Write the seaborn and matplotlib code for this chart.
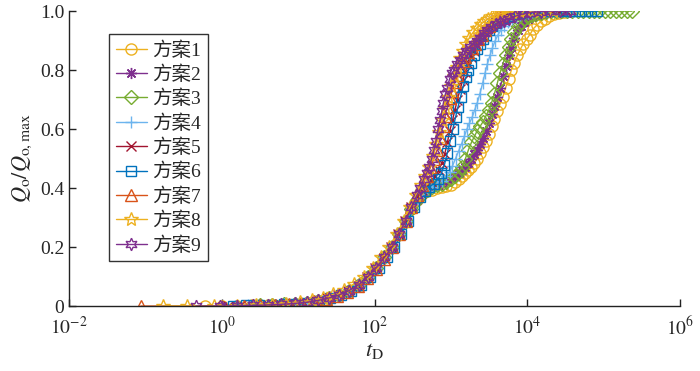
import matplotlib
matplotlib.use("Agg")
import matplotlib.pyplot as plt
import seaborn as sns
import pandas as pd

sns.set_style("ticks")
plt.rcParams['font.family'] = ['Liberation Serif', 'Noto Sans CJK SC']
plt.rcParams['mathtext.fontset'] = 'stix'
plt.rcParams['xtick.direction'] = 'in'
plt.rcParams['ytick.direction'] = 'in'

# t_D and Q_o/Q_o,max, one pair per scheme
t1 = [0.6, 1.0, 1.6, 2.5, 4, 6, 9, 13, 18, 25,
      34, 46, 62, 82, 105, 135, 170, 210, 255, 305,
      360, 420, 490, 570, 660, 760, 870, 990, 1120, 1260,
      1400, 1550, 1700, 1860, 2030, 2220, 2420, 2640, 2880, 3140,
      3420, 3720, 4050, 4400, 4800, 5200, 5700, 6200, 6800, 7400,
      8100, 8900, 9800, 10800, 12000, 13400, 15000, 17000, 19500, 22500,
      26000, 30000, 36000]
q1 = [0, 0, 0.001, 0.002, 0.003, 0.005, 0.008, 0.012, 0.018, 0.026,
      0.036, 0.05, 0.07, 0.10, 0.13, 0.165, 0.20, 0.245, 0.29, 0.33,
      0.36, 0.38, 0.39, 0.395, 0.40, 0.403, 0.407, 0.412, 0.42, 0.43,
      0.44, 0.45, 0.46, 0.47, 0.485, 0.50, 0.52, 0.54, 0.56, 0.585,
      0.61, 0.635, 0.66, 0.685, 0.71, 0.74, 0.77, 0.80, 0.825, 0.85,
      0.87, 0.89, 0.905, 0.92, 0.94, 0.953, 0.965, 0.975, 0.983, 0.99,
      0.995, 0.998, 1.0]

t2 = [1.0, 1.6, 2.5, 4, 6, 9, 13, 18, 25,
      34, 46, 62, 82, 105, 135, 170, 210, 255, 305,
      360, 420, 490, 570, 660, 760, 870, 990, 1120, 1260,
      1400, 1550, 1700, 1860, 2030, 2220, 2420, 2640, 2880, 3140,
      3420, 3720, 4050, 4400, 4800, 5200, 5700, 6200, 6800, 7500,
      8300, 9200, 10200, 11500, 13000, 15000, 17500, 20500, 24000, 28000,
      32000]
q2 = [0, 0.001, 0.002, 0.003, 0.005, 0.008, 0.012, 0.018, 0.026,
      0.036, 0.05, 0.07, 0.10, 0.13, 0.165, 0.20, 0.245, 0.29, 0.33,
      0.36, 0.38, 0.395, 0.405, 0.41, 0.415, 0.42, 0.43, 0.44, 0.45,
      0.46, 0.47, 0.485, 0.50, 0.515, 0.53, 0.55, 0.57, 0.595, 0.62,
      0.65, 0.68, 0.71, 0.74, 0.78, 0.815, 0.85, 0.88, 0.91, 0.935,
      0.95, 0.962, 0.972, 0.98, 0.986, 0.991, 0.995, 0.998, 1.0, 1.0,
      1.0]

t3 = [3.2, 4.5, 6.5, 9, 13, 18, 25, 34, 46, 62,
      82, 105, 135, 170, 210, 255, 305, 360, 420, 490,
      570, 660, 760, 870, 990, 1120, 1260, 1400, 1550, 1700,
      1860, 2030, 2220, 2420, 2640, 2880, 3140, 3420, 3720, 4050,
      4400, 4800, 5200, 5700, 6200, 6800, 7500, 8300, 9200, 10200,
      11500, 13000, 15000, 17500, 20500, 24000, 28000, 33000, 39000, 46000,
      54000, 64000, 75000, 88000, 104000, 122000, 144000, 170000, 200000, 236000]
q3 = [0.003, 0.004, 0.006, 0.008, 0.012, 0.018, 0.026, 0.036, 0.05, 0.07,
      0.10, 0.13, 0.165, 0.20, 0.245, 0.29, 0.33, 0.36, 0.38, 0.395,
      0.405, 0.41, 0.415, 0.42, 0.43, 0.44, 0.455, 0.47, 0.50, 0.53,
      0.555, 0.575, 0.595, 0.61, 0.625, 0.645, 0.665, 0.69, 0.72, 0.755,
      0.79, 0.82, 0.85, 0.88, 0.905, 0.93, 0.95, 0.963, 0.973, 0.98,
      0.986, 0.991, 0.995, 0.998, 1.0, 1.0, 1.0, 1.0, 1.0, 1.0,
      1.0, 1.0, 1.0, 1.0, 1.0, 1.0, 1.0, 1.0, 1.0, 1.0]

t4 = [1.5, 2.2, 3.2, 4.6, 6.5, 9, 13, 18, 25, 34,
      46, 62, 82, 105, 135, 170, 210, 255, 305, 360,
      420, 490, 570, 660, 760, 870, 960, 1050, 1150, 1260,
      1380, 1500, 1620, 1750, 1900, 2050, 2220, 2400, 2600, 2800,
      3000, 3250, 3500, 3800, 4150, 4550, 5000, 5600, 6300, 7100,
      8000, 9000, 10200, 11600, 13200, 15000, 17500, 20500, 24000, 28000,
      33000, 40000]
q4 = [0.001, 0.002, 0.003, 0.004, 0.006, 0.008, 0.012, 0.018, 0.026, 0.036,
      0.05, 0.07, 0.10, 0.13, 0.165, 0.20, 0.245, 0.29, 0.33, 0.36,
      0.38, 0.395, 0.405, 0.415, 0.425, 0.44, 0.455, 0.475, 0.50, 0.525,
      0.55, 0.575, 0.60, 0.62, 0.64, 0.665, 0.69, 0.72, 0.755, 0.79,
      0.82, 0.85, 0.875, 0.90, 0.92, 0.937, 0.95, 0.962, 0.972, 0.98,
      0.986, 0.991, 0.995, 0.997, 0.999, 1.0, 1.0, 1.0, 1.0, 1.0,
      1.0, 1.0]

t5 = [1.2, 1.8, 2.7, 4, 5.8, 8.3, 12, 17, 24, 33,
      45, 60, 80, 103, 132, 165, 205, 250, 300, 355,
      415, 480, 550, 620, 690, 760, 830, 900, 970, 1050,
      1130, 1220, 1320, 1430, 1550, 1680, 1820, 1980, 2150, 2350,
      2580, 2850, 3150, 3500, 3900, 4400, 5000, 5800, 6800, 8000,
      9500, 11500, 14000, 17000, 21000, 26000, 32000]
q5 = [0.001, 0.002, 0.003, 0.004, 0.006, 0.008, 0.012, 0.018, 0.026, 0.036,
      0.05, 0.068, 0.098, 0.128, 0.163, 0.2, 0.245, 0.29, 0.335, 0.37,
      0.395, 0.41, 0.425, 0.44, 0.46, 0.485, 0.515, 0.555, 0.595, 0.63,
      0.665, 0.70, 0.735, 0.765, 0.795, 0.82, 0.845, 0.865, 0.885, 0.905,
      0.92, 0.935, 0.948, 0.96, 0.97, 0.978, 0.985, 0.99, 0.994, 0.997,
      1.0, 1.0, 1.0, 1.0, 1.0, 1.0, 1.0]

t6 = [1.4, 2.1, 3.1, 4.5, 6.5, 9.2, 13, 18.5, 26, 36,
      49, 66, 88, 113, 145, 182, 225, 275, 330, 390,
      455, 525, 600, 675, 750, 825, 900, 980, 1060, 1150,
      1240, 1340, 1450, 1570, 1700, 1840, 2000, 2180, 2380, 2600,
      2850, 3150, 3500, 3900, 4400, 5000, 5800, 6800, 8000, 9500,
      11500, 14000, 17000, 21000, 26000, 32000, 39000, 47000, 57000, 69000,
      83000]
q6 = [0.001, 0.002, 0.003, 0.004, 0.006, 0.008, 0.012, 0.018, 0.026, 0.036,
      0.05, 0.07, 0.10, 0.13, 0.165, 0.2, 0.245, 0.29, 0.335, 0.37,
      0.39, 0.405, 0.415, 0.43, 0.45, 0.48, 0.52, 0.56, 0.60, 0.64,
      0.675, 0.71, 0.745, 0.775, 0.80, 0.825, 0.85, 0.87, 0.89, 0.905,
      0.92, 0.935, 0.948, 0.96, 0.97, 0.978, 0.985, 0.99, 0.994, 0.997,
      1.0, 1.0, 1.0, 1.0, 1.0, 1.0, 1.0, 1.0, 1.0, 1.0,
      1.0]

t7 = [0.087, 1.95, 3.2, 5, 7.5, 11, 16, 23, 32, 44,
      60, 80, 105, 135, 170, 210, 255, 305, 360, 420,
      480, 540, 600, 660, 720, 780, 840, 900, 970, 1040,
      1120, 1210, 1310, 1420, 1550, 1700, 1870, 2060, 2280, 2530,
      2820, 3150, 3550, 4050, 4700, 5600, 6900]
q7 = [0, 0, 0.002, 0.004, 0.006, 0.01, 0.016, 0.024, 0.034, 0.048,
      0.068, 0.095, 0.125, 0.16, 0.2, 0.245, 0.29, 0.335, 0.375, 0.41,
      0.44, 0.47, 0.50, 0.53, 0.57, 0.61, 0.645, 0.675, 0.705, 0.73,
      0.76, 0.785, 0.81, 0.83, 0.845, 0.86, 0.875, 0.89, 0.905, 0.92,
      0.935, 0.95, 0.965, 0.978, 0.988, 0.995, 1.0]

t8 = [0.17, 0.35, 0.8, 1.6, 2.8, 4.5, 7, 10.5, 15, 21,
      29, 40, 54, 72, 95, 122, 155, 195, 240, 290,
      345, 405, 465, 525, 585, 645, 705, 770, 840, 915,
      1000, 1090, 1190, 1300, 1430, 1580, 1750, 1950, 2180, 2450,
      2750, 3100, 3500, 4000, 4600, 5400, 6400, 7700, 9300, 11500,
      14500, 18000, 22000]
q8 = [0, 0, 0, 0.001, 0.003, 0.005, 0.008, 0.013, 0.02, 0.028,
      0.04, 0.055, 0.075, 0.1, 0.13, 0.165, 0.2, 0.245, 0.29, 0.335,
      0.375, 0.41, 0.44, 0.47, 0.51, 0.55, 0.59, 0.63, 0.67, 0.71,
      0.745, 0.78, 0.81, 0.84, 0.865, 0.89, 0.91, 0.928, 0.943, 0.955,
      0.965, 0.974, 0.982, 0.988, 0.993, 0.996, 0.998, 1.0, 1.0, 1.0,
      1.0, 1.0, 1.0]

t9 = [0.46, 0.95, 1.6, 2.6, 4, 6, 9, 13, 18, 25,
      34, 46, 62, 82, 105, 135, 170, 210, 255, 305,
      360, 400, 440, 480, 520, 560, 600, 640, 680, 720,
      760, 800, 850, 900, 960, 1030, 1100, 1200, 1320, 1450,
      1600, 1780, 2000, 2200, 2400, 2700, 3000, 3400, 3900, 4400,
      5000, 5800, 7000, 8700, 11000, 15000, 20000, 27000, 36000]
q9 = [0, 0, 0.001, 0.002, 0.004, 0.006, 0.009, 0.013, 0.019, 0.027,
      0.037, 0.052, 0.072, 0.1, 0.13, 0.165, 0.2, 0.245, 0.29, 0.335,
      0.375, 0.40, 0.43, 0.45, 0.47, 0.50, 0.53, 0.56, 0.60, 0.63,
      0.66, 0.69, 0.72, 0.74, 0.77, 0.79, 0.80, 0.82, 0.835, 0.85,
      0.865, 0.88, 0.89, 0.90, 0.91, 0.925, 0.935, 0.945, 0.955, 0.962,
      0.968, 0.975, 0.983, 0.99, 0.995, 0.998, 1.0, 1.0, 1.0]

labels = ['方案1', '方案2', '方案3', '方案4', '方案5', '方案6', '方案7', '方案8', '方案9']
t_all = [t1, t2, t3, t4, t5, t6, t7, t8, t9]
q_all = [q1, q2, q3, q4, q5, q6, q7, q8, q9]

colors = ['#EDB120', '#7E2F8E', '#77AC30', '#6CB4EE', '#A2142F',
          '#0072BD', '#D95319', '#EDB120', '#7E2F8E']
markers = ['o', (8, 2, 0), 'D', '+', 'x', 's', '^', '*', (6, 1, 0)]
msizes = [8, 8, 7, 9, 6.5, 6.5, 8.5, 10.5, 9]

fig, ax = plt.subplots(figsize=(7, 3.71), dpi=100)
fig.subplots_adjust(left=0.0986, right=0.9714, top=0.970, bottom=0.175)

for lab, t, q, c, m, ms in zip(labels, t_all, q_all, colors, markers, msizes):
    df = pd.DataFrame({'tD': t, 'Q': q})
    sns.lineplot(data=df, x='tD', y='Q', ax=ax, color=c, marker=m, markersize=ms,
                 markerfacecolor='none', markeredgecolor=c, markeredgewidth=1.0,
                 linewidth=1.0, label=lab, sort=False, estimator=None)

ax.set_xscale('log')
ax.set_xlim(1e-2, 1e6)
ax.set_ylim(0, 1.0)
ax.set_xticks([1e-2, 1, 1e2, 1e4, 1e6])
ax.set_xticklabels([r'$10^{-2}$', r'$10^{0}$', r'$10^{2}$', r'$10^{4}$', r'$10^{6}$'])
ax.xaxis.set_minor_locator(matplotlib.ticker.NullLocator())
ax.set_yticks([0, 0.2, 0.4, 0.6, 0.8, 1.0])
ax.set_yticklabels(['0', '0.2', '0.4', '0.6', '0.8', '1.0'])
ax.tick_params(labelsize=14, length=5, width=1, color='#222222')
ax.tick_params(axis='x', pad=7)
for sp in ['left', 'bottom']:
    ax.spines[sp].set_linewidth(1.0)
    ax.spines[sp].set_color('#222222')
sns.despine(ax=ax)

ax.set_xlabel(r'$t_{\mathrm{D}}$', fontsize=16, labelpad=2)
ax.set_ylabel(r'$Q_{\mathrm{o}}/Q_{\mathrm{o,max}}$', fontsize=16, labelpad=4)

leg = ax.legend(loc='upper left', bbox_to_anchor=(0.065, 0.922), borderaxespad=0,
                fontsize=14, frameon=True, fancybox=False, edgecolor='black',
                handlelength=1.6, labelspacing=0.3, handletextpad=0.3, borderpad=0.35)
leg.get_frame().set_linewidth(1.0)

fig.savefig('out.png', dpi=100)
